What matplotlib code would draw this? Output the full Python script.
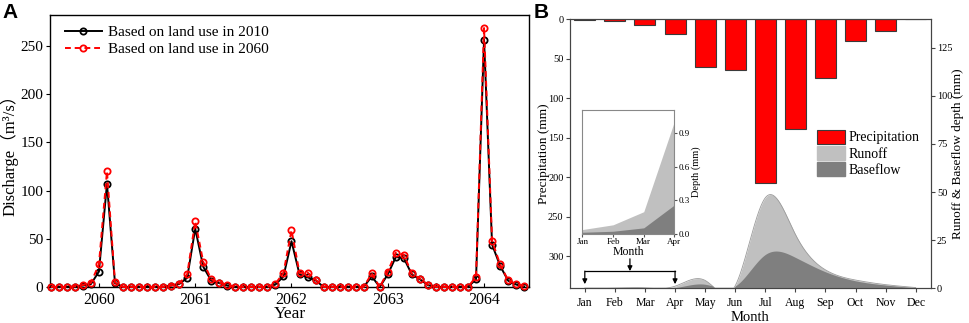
import numpy as np
import matplotlib
matplotlib.use("Agg")
import matplotlib.pyplot as plt
from matplotlib.patches import Patch

plt.rcParams['font.family'] = ['Liberation Serif', 'Noto Sans CJK SC', 'DejaVu Sans']

# ---------------- Data: panel A (monthly discharge, m3/s) ----------------
years = ['2060', '2061', '2062', '2063', '2064']
q_2010 = [0, 0, 0, 0.5, 1.5, 3, 16, 107, 4, 0, 0, 0,
          0, 0, 0, 1.5, 3, 9.5, 60.5, 21, 6.5, 4, 1.5, 0,
          0, 0, 0, 0, 2.5, 11, 47.5, 13, 10, 7, 0, 0,
          0, 0, 0, 0, 11, 0, 13, 31, 30, 13, 8, 2,
          0, 0, 0, 0, 0, 8, 256.5, 44, 22, 6.5, 2.5, 0.5]
q_2060 = [0, 0, 0, 0.5, 2, 4.2, 23.5, 120, 4.8, 0, 0, 0,
          0, 0, 0, 1.5, 3.5, 13, 68, 26, 8, 4.5, 2, 0,
          0, 0, 0, 0, 3.5, 14.5, 59, 14.5, 15, 7.6, 0, 0,
          0, 0, 0, 0, 14, 0, 16, 35.5, 33.5, 14, 8.7, 2.5,
          0, 0, 0, 0, 0, 10.7, 268.5, 48, 23.4, 7, 3, 1]

# ---------------- Data: panel B (monthly means) ----------------
months = ['Jan', 'Feb', 'Mar', 'Apr', 'May', 'Jun', 'Jul', 'Aug', 'Sep', 'Oct', 'Nov', 'Dec']
precip = [1.3, 2.9, 8, 19.4, 60.3, 64.6, 206.8, 138.8, 75, 27.8, 15.2, 0]
runoff = [0.042, 0.084, 0.20, 1.0, 4.0, 1.2, 47, 28, 9.5, 4.2, 1.8, 0.3]
baseflow = [0.018, 0.027, 0.057, 0.26, 2.0, 1.1, 17.5, 16, 8.5, 3.8, 1.6, 0.2]

inset_months = months[:4]
inset_runoff = runoff[:4]
inset_baseflow = baseflow[:4]


def natural_spline(x, y, xs):
    x = np.asarray(x, float)
    y = np.asarray(y, float)
    n = len(x)
    h = np.diff(x)
    A = np.zeros((n, n))
    b = np.zeros(n)
    A[0, 0] = 1
    A[-1, -1] = 1
    for i in range(1, n - 1):
        A[i, i - 1] = h[i - 1]
        A[i, i] = 2 * (h[i - 1] + h[i])
        A[i, i + 1] = h[i]
        b[i] = 6 * ((y[i + 1] - y[i]) / h[i] - (y[i] - y[i - 1]) / h[i - 1])
    M = np.linalg.solve(A, b)
    idx = np.clip(np.searchsorted(x, xs) - 1, 0, n - 2)
    x0, x1 = x[idx], x[idx + 1]
    hh = x1 - x0
    t0 = x1 - xs
    t1 = xs - x0
    return (M[idx] * t0 ** 3 / (6 * hh) + M[idx + 1] * t1 ** 3 / (6 * hh)
            + (y[idx] / hh - M[idx] * hh / 6) * t0
            + (y[idx + 1] / hh - M[idx + 1] * hh / 6) * t1)


fig = plt.figure(figsize=(9.69, 3.23), dpi=100)

# ---------------- Panel A ----------------
axA = fig.add_axes([0.0516, 0.1115, 0.4943, 0.842])
xi = np.arange(len(q_2010))
axA.plot(xi, q_2010, color='black', lw=1.4, marker='o', ms=4.5, mfc='none',
         mec='black', mew=1.3, label='Based on land use in 2010', clip_on=False, zorder=3)
axA.plot(xi, q_2060, color='red', lw=1.4, ls=(0, (3, 2)), marker='o', ms=4.5, mfc='none',
         mec='red', mew=1.3, label='Based on land use in 2060', clip_on=False, zorder=4)
axA.set_xlim(-0.1, 59.6)
axA.set_ylim(0, 282)
axA.set_xticks([6, 18, 30, 42, 54])
axA.set_xticklabels(years)
axA.set_xticks([0, 12, 24, 36, 48], minor=True)
axA.set_yticks([0, 50, 100, 150, 200, 250])
axA.tick_params(axis='x', which='both', direction='in', labelsize=11.5, length=3)
axA.tick_params(axis='y', direction='out', labelsize=11, length=3, pad=2)
axA.set_xlabel('Year', fontsize=12.5)
axA.xaxis.set_label_coords(0.5, -0.07)
axA.set_ylabel('Discharge（m³/s）', fontsize=12)
axA.yaxis.set_label_coords(-0.066, 0.5)
for s in axA.spines.values():
    s.set_linewidth(1.0)
axA.legend(loc='upper left', bbox_to_anchor=(0.012, 0.995), frameon=False, fontsize=11,
           handlelength=2.4, handletextpad=0.4, labelspacing=0.2, borderaxespad=0.2)
fig.text(0.003, 0.99, 'A', fontsize=15, fontweight='bold', family='Liberation Sans',
         va='top', ha='left')

# ---------------- Panel B ----------------
axB = fig.add_axes([0.588, 0.108, 0.3725, 0.833])
mx = np.arange(1, 13)
axB.bar(mx, precip, width=0.7, color='#FF0000', edgecolor='#3a3a3a', lw=0.8, zorder=2)
axB.set_xlim(0.5, 12.5)
axB.set_ylim(340, 0)
axB.set_xticks(mx)
axB.set_xticklabels(months)
axB.set_yticks([0, 50, 100, 150, 200, 250, 300])
axB.tick_params(axis='x', direction='out', labelsize=8.5, length=3, color='#444444')
axB.tick_params(axis='y', direction='out', labelsize=7.5, length=3, pad=1.5, color='#444444')
axB.set_xlabel('Month', fontsize=10.5)
axB.xaxis.set_label_coords(0.5, -0.085)
axB.set_ylabel('Precipitation (mm)', fontsize=9.5)
axB.yaxis.set_label_coords(-0.055, 0.5)
for s in axB.spines.values():
    s.set_color('#444444')

axB2 = axB.twinx()
xs = np.linspace(1, 12, 600)
r_s = np.clip(natural_spline(mx, runoff, xs), 0, None)
b_s = np.clip(natural_spline(mx, baseflow, xs), 0, None)
b_s = np.minimum(b_s, r_s)
axB2.fill_between(xs, 0, r_s, color='#C0C0C0', lw=0, zorder=1)
axB2.plot(xs, r_s, color='#9a9a9a', lw=0.6, zorder=1)
axB2.fill_between(xs, 0, b_s, color='#7F7F7F', lw=0, zorder=2)
axB2.set_ylim(0, 140)
axB2.set_yticks([0, 25, 50, 75, 100, 125])
axB2.tick_params(axis='y', direction='out', labelsize=7.5, length=3, pad=1.5, color='#444444')
axB2.set_ylabel('Runoff & Baseflow depth (mm)', fontsize=9.5)
axB2.yaxis.set_label_coords(1.058, 0.5)
for s in axB2.spines.values():
    s.set_color('#444444')

handles = [Patch(facecolor='#FF0000', edgecolor='#3a3a3a', lw=0.8),
           Patch(facecolor='#C0C0C0', edgecolor='#C0C0C0'),
           Patch(facecolor='#7F7F7F', edgecolor='#7F7F7F')]
axB2.legend(handles, ['Precipitation', 'Runoff', 'Baseflow'], loc='upper left',
            bbox_to_anchor=(0.843, 0.598), bbox_transform=fig.transFigure,
            frameon=False, fontsize=10, handlelength=2.0, handleheight=1.15,
            handletextpad=0.3, labelspacing=0.12, borderpad=0, borderaxespad=0)

# bracket pointing from inset to Jan-Apr
arrow_kw = dict(arrowstyle='-|>', color='black', lw=0.9, mutation_scale=7, shrinkA=0, shrinkB=0)
axB.annotate('', xy=(1, 335), xytext=(1, 318.5), arrowprops=arrow_kw)
axB.annotate('', xy=(4, 335), xytext=(4, 318.5), arrowprops=arrow_kw)
axB.plot([1, 4], [318.5, 318.5], color='black', lw=0.9, zorder=5)
axB.annotate('', xy=(2.5, 318.5), xytext=(2.5, 303), arrowprops=arrow_kw)

# ---------------- Inset ----------------
axI = fig.add_axes([0.601, 0.2746, 0.095, 0.3848])
ix = np.arange(1, 5)
axI.fill_between(ix, 0, inset_runoff, color='#C0C0C0', lw=0)
axI.fill_between(ix, 0, inset_baseflow, color='#7F7F7F', lw=0)
axI.set_xlim(1, 4)
axI.set_ylim(0, 1.1)
axI.set_xticks(ix)
axI.set_xticklabels(inset_months)
axI.set_yticks([0.0, 0.3, 0.6, 0.9])
axI.yaxis.tick_right()
axI.yaxis.set_label_position('right')
axI.tick_params(axis='both', direction='out', labelsize=6.5, length=2, pad=1, color='#555555')
axI.set_ylabel('Depth (mm)', fontsize=7.5, labelpad=1)
axI.set_xlabel('Month', fontsize=8.5, labelpad=0)
for s in axI.spines.values():
    s.set_color('#888888')
    s.set_linewidth(0.8)

fig.text(0.551, 0.99, 'B', fontsize=15, fontweight='bold', family='Liberation Sans',
         va='top', ha='left')

fig.savefig('out.png', dpi=100)
